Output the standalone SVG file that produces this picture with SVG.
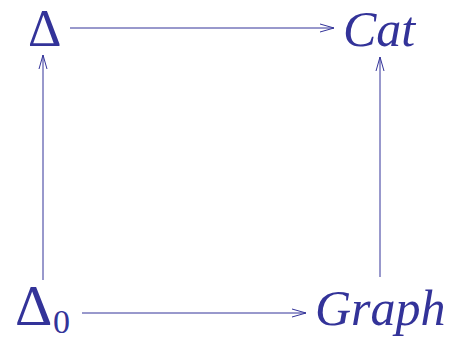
<svg xmlns="http://www.w3.org/2000/svg" width="457" height="341" viewBox="0 0 457 341">
<defs>
<style>
.t{font-family:"Liberation Serif","Times New Roman",serif;fill:#333399}
.i{font-style:italic}
.e{stroke:#333399;stroke-width:1;fill:none;marker-end:url(#ah)}
</style>
<marker id="ah" markerWidth="16" markerHeight="10" refX="14" refY="5" orient="auto" markerUnits="userSpaceOnUse">
<path d="M0,1 L14,5 L0,9" fill="none" stroke="#333399" stroke-width="1"/>
</marker>
</defs>
<rect width="457" height="341" fill="#fff"/>
<g id="edges">
<line class="e" x1="70" y1="28" x2="334" y2="28"/>
<line class="e" x1="43" y1="280" x2="43" y2="55"/>
<line class="e" x1="380" y1="277" x2="380" y2="57"/>
<line class="e" x1="82" y1="313" x2="306" y2="313"/>
</g>
<g id="delta"><text class="t" x="28" y="46" font-size="52">Δ</text></g>
<g id="cat"><text class="t i" x="343" y="46" font-size="50">Cat</text></g>
<g id="delta0"><text class="t" x="15" y="325" font-size="58">Δ</text><text class="t" x="53" y="333" font-size="34">0</text></g>
<g id="graph"><text class="t i" x="315" y="325" font-size="50">Graph</text></g>
</svg>
